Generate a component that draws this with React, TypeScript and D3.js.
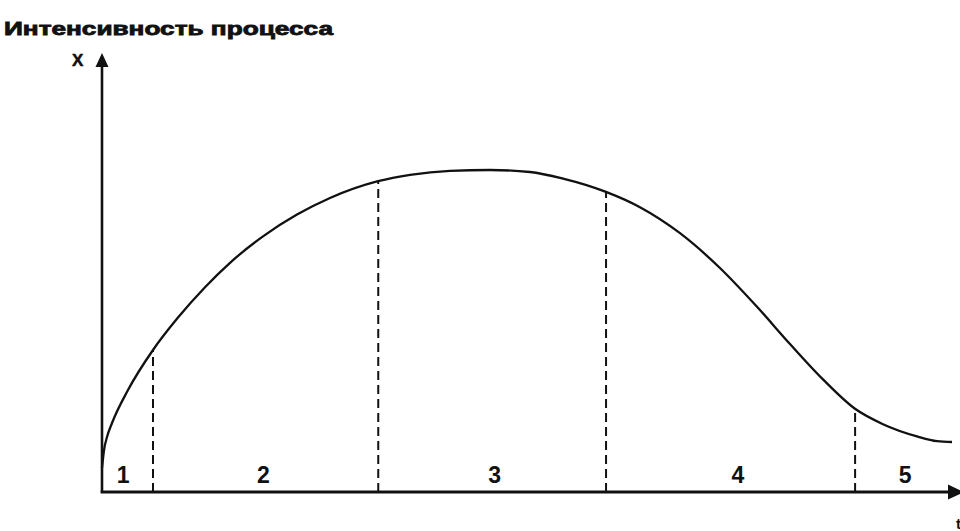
import { useEffect, useRef } from "react";
import * as d3 from "d3";

// process curve, t (0..100) vs intensity X (0..100)
const curveT = [0, 0.24, 0.59, 1.18, 3.06, 6, 8.94, 12.12, 15.06, 18.94, 22.94, 26.82, 32.47, 36.24, 40.94, 45.65, 50.35, 54.24, 59.29, 63.29, 68, 72.7, 77.06, 80.94, 84.82, 88.59, 91.88, 95.88, 98.24, 100];
const curveX = [6, 10.5, 13.75, 17.25, 25.5, 35.5, 43.6, 51.2, 57.3, 63.9, 69.35, 73.5, 77.7, 79.3, 80.3, 80.5, 80, 78.35, 75.03, 71.2, 64.7, 56, 46.3, 37, 28.15, 20.8, 16.95, 13.9, 12.7, 12.5];

// borders between the phases
const borders = [6, 32.5, 59.3, 88.6];

// phase numbers and where they sit on t
const phaseLabels = ["1", "2", "3", "4", "5"];
const phasePos = [2.5, 19, 46.2, 74.8, 94.5];

const title = "Интенсивность процесса";
const yLabel = "X";
const xLabel = "t";

const W = 960;
const H = 531;

const App = () => {
  const svgRef = useRef<SVGSVGElement>(null);

  useEffect(() => {
    const svg = d3.select(svgRef.current);
    svg.selectAll("*").remove();

    const x = d3.scaleLinear().domain([0, 100]).range([102, 952]);
    const y = d3.scaleLinear().domain([0, 100]).range([492, 92]);
    const x0 = x(0);
    const y0 = y(0);

    const pts: [number, number][] = curveT.map((t, i) => [t, curveX[i]]);
    const valueAt = (t: number) => {
      const i = d3.bisector((d: [number, number]) => d[0]).left(pts, t);
      if (i <= 0) return pts[0][1];
      if (i >= pts.length) return pts[pts.length - 1][1];
      const [ta, xa] = pts[i - 1];
      const [tb, xb] = pts[i];
      return xa + ((t - ta) / (tb - ta)) * (xb - xa);
    };

    // title
    svg
      .append("text")
      .attr("x", 4)
      .attr("y", 35)
      .attr("font-family", "Liberation Sans, Arial, sans-serif")
      .attr("font-weight", "bold")
      .attr("font-size", 18)
      .attr("textLength", 329)
      .attr("lengthAdjust", "spacingAndGlyphs")
      .attr("stroke", "#111")
      .attr("stroke-width", 0.8)
      .attr("fill", "#111")
      .text(title);

    // dashed phase borders
    svg
      .append("g")
      .selectAll("line")
      .data(borders)
      .enter()
      .append("line")
      .attr("x1", (d) => x(d))
      .attr("x2", (d) => x(d))
      .attr("y1", y0)
      .attr("y2", (d) => y(valueAt(d)))
      .attr("stroke", "#111")
      .attr("stroke-width", 2)
      .attr("stroke-dasharray", "9,5");

    // curve
    const line = d3
      .line<[number, number]>()
      .x((d) => x(d[0]))
      .y((d) => y(d[1]))
      .curve(d3.curveMonotoneX);
    svg
      .append("path")
      .datum(pts)
      .attr("d", line)
      .attr("fill", "none")
      .attr("stroke", "#111")
      .attr("stroke-width", 2.3);

    // axes
    svg
      .append("line")
      .attr("x1", x0)
      .attr("x2", x0)
      .attr("y1", y0 + 1)
      .attr("y2", 62)
      .attr("stroke", "#111")
      .attr("stroke-width", 2.6);
    svg
      .append("path")
      .attr("d", `M${x0},53 L${x0 - 6.5},67 L${x0 + 6.5},67 Z`)
      .attr("fill", "#111");
    svg
      .append("line")
      .attr("x1", x0 - 1.3)
      .attr("x2", 950)
      .attr("y1", y0)
      .attr("y2", y0)
      .attr("stroke", "#111")
      .attr("stroke-width", 2.8);
    svg
      .append("path")
      .attr("d", `M964,${y0} L948,${y0 - 7.5} L948,${y0 + 7.5} Z`)
      .attr("fill", "#111");

    // axis labels
    svg
      .append("text")
      .attr("x", 72)
      .attr("y", 66)
      .attr("font-family", "Liberation Sans, Arial, sans-serif")
      .attr("font-weight", "bold")
      .attr("font-size", 17)
      .attr("stroke", "#111")
      .attr("stroke-width", 0.5)
      .attr("fill", "#111")
      .text(yLabel);
    svg
      .append("text")
      .attr("x", 956)
      .attr("y", 529)
      .attr("font-family", "Liberation Sans, Arial, sans-serif")
      .attr("font-weight", "bold")
      .attr("font-size", 15)
      .attr("fill", "#111")
      .text(xLabel);

    // phase numbers
    svg
      .append("g")
      .selectAll("text")
      .data(phaseLabels)
      .enter()
      .append("text")
      .attr("x", (d, i) => x(phasePos[i]))
      .attr("y", y0 - 9)
      .attr("text-anchor", "middle")
      .attr("font-family", "Liberation Sans, Arial, sans-serif")
      .attr("font-weight", "bold")
      .attr("font-size", 23)
      .attr("fill", "#111")
      .text((d) => d);
  }, []);

  return (
    <svg
      ref={svgRef}
      width={W}
      height={H}
      style={{ position: "absolute", left: 0, top: 0, background: "#fff" }}
    ></svg>
  );
};

export default App;
